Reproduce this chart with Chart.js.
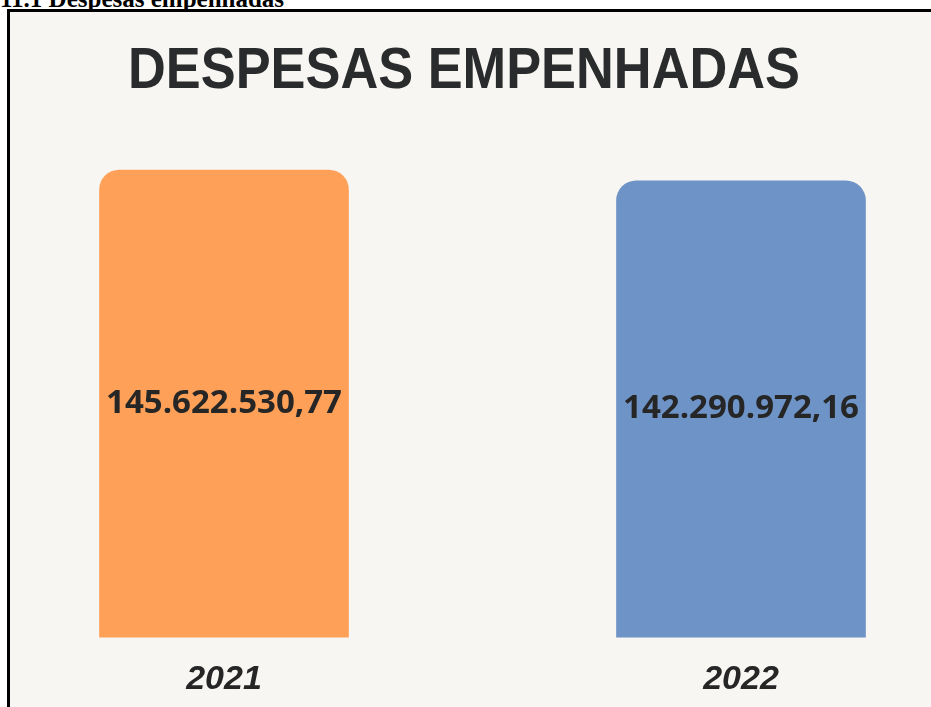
<!DOCTYPE html>
<html>
<head>
<meta charset="utf-8">
<script src="https://cdn.jsdelivr.net/npm/chart.js@4.4.1/dist/chart.umd.min.js"></script>
<style>
  html, body { margin: 0; padding: 0; background: #fff; overflow: hidden; }
  body { width: 931px; height: 707px; position: relative; }
  .caption {
    position: absolute; left: 0; top: -13px; margin: 0;
    font: bold 25px "Liberation Serif", "Times New Roman", serif; line-height: 24px;
    color: #000; white-space: nowrap;
  }
  .frame {
    position: absolute; left: 7px; top: 9px; width: 940px; height: 720px;
    border: 3px solid #000; background: #f7f6f2;
  }
  canvas { position: absolute; left: 0; top: 0; }
</style>
</head>
<body>
<div class="caption">11.1 Despesas empenhadas</div>
<div class="frame">
  <canvas id="chart" width="921" height="695"></canvas>
</div>
<script>
const titleText = 'DESPESAS EMPENHADAS';
const categories = ['2021', '2022'];
const values = [145622530.77, 142290972.16];
const barColors = ['#fea057', '#6e93c6'];

const fmt = v => v.toLocaleString('pt-BR', { minimumFractionDigits: 2, maximumFractionDigits: 2 });

// big condensed heading, drawn on the canvas
const headingPlugin = {
  id: 'heading',
  afterDraw(chart) {
    const ctx = chart.ctx;
    ctx.save();
    ctx.font = 'bold 58px "Liberation Sans", Arial, sans-serif';
    ctx.fillStyle = '#2a2b2c';
    ctx.textAlign = 'center';
    ctx.textBaseline = 'middle';
    const w = ctx.measureText(titleText).width;
    ctx.translate(454, 60);
    ctx.scale(672 / w, 1);
    ctx.fillText(titleText, 0, 0);
    ctx.restore();
  }
};

// value written in the middle of each bar
const valueLabels = {
  id: 'valueLabels',
  afterDatasetsDraw(chart) {
    const ctx = chart.ctx;
    const meta = chart.getDatasetMeta(0);
    ctx.save();
    ctx.font = 'bold 33px "Open Sans", sans-serif';
    ctx.fillStyle = '#262626';
    ctx.textAlign = 'center';
    ctx.textBaseline = 'middle';
    meta.data.forEach((bar, i) => {
      ctx.fillText(fmt(values[i]), bar.x, (bar.y + bar.base) / 2);
    });
    ctx.restore();
  }
};

new Chart(document.getElementById('chart'), {
  type: 'bar',
  data: {
    labels: categories,
    datasets: [{
      data: values,
      backgroundColor: barColors,
      borderRadius: { topLeft: 20, topRight: 20 },
      borderSkipped: false,
      barThickness: 249,
      clip: false
    }]
  },
  options: {
    responsive: false,
    animation: false,
    layout: { padding: { top: 144, left: 214, right: 190, bottom: -15 } },
    plugins: {
      legend: { display: false },
      tooltip: { enabled: false }
    },
    scales: {
      x: {
        offset: false,
        grid: { display: false, drawTicks: false },
        border: { display: false },
        ticks: {
          padding: 22,
          color: '#262626',
          font: { family: '"Liberation Sans", Arial, sans-serif', size: 34, weight: 'bold', style: 'italic' }
        }
      },
      y: {
        display: false,
        min: 0,
        max: 150000000
      }
    }
  },
  plugins: [headingPlugin, valueLabels]
});
</script>
</body>
</html>
